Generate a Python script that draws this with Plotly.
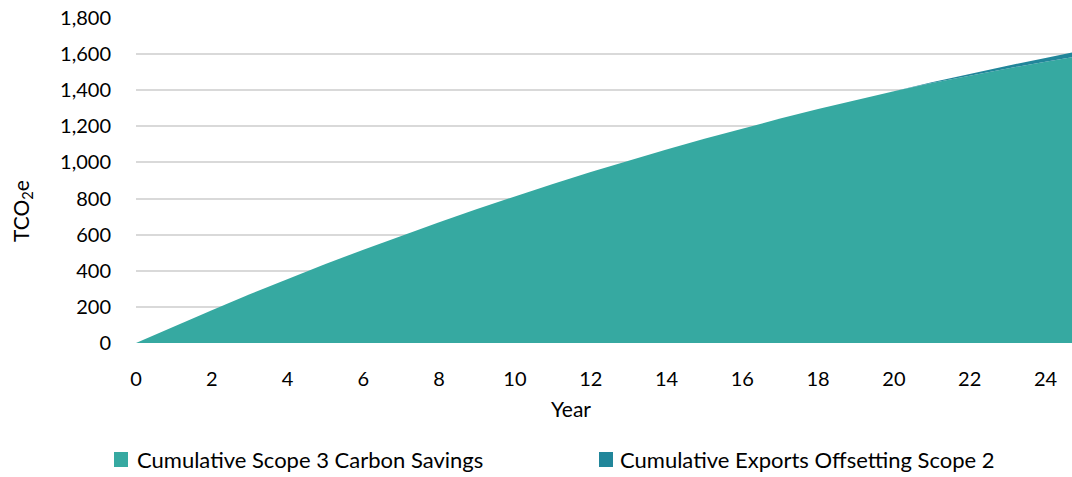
import plotly.graph_objects as go

# Cumulative savings by year (tCO2e)
years = list(range(0, 26))
scope3_cumulative = [0, 92, 182, 270, 355, 437, 517, 594, 669, 742, 813, 881, 947,
                     1011, 1072, 1131, 1188, 1243, 1296, 1347, 1395, 1440, 1482,
                     1521, 1558, 1593]
exports_cumulative = [0, 0, 0, 0, 0, 0, 0, 0, 0, 0, 0, 0, 0,
                      0, 0, 0, 0, 0, 0, 0, 0, 4, 9, 15, 21, 28]
series_names = ["Cumulative Scope 3 Carbon Savings", "Cumulative Exports Offsetting Scope 2"]
series_colors = ["#36A9A1", "#21869A"]
y_ticks = list(range(0, 2000, 200))
x_ticks = list(range(0, 26, 2))

FONT = "Lato"
W, H = 1072, 477
L, R, T, B = 136, 0, 18, 134
pw, ph = W - L - R, H - T - B


def px_x(x):
    """Pixel column -> paper x."""
    return (x - L) / pw


def px_y(y):
    """Pixel row (from top) -> paper y."""
    return (H - y - B) / ph


fig = go.Figure()
for name, vals, col in zip(series_names, [scope3_cumulative, exports_cumulative], series_colors):
    fig.add_trace(go.Scatter(
        x=years, y=vals, name=name, mode="lines", stackgroup="s",
        line=dict(width=0, color=col), fillcolor=col, showlegend=False,
    ))

fig.update_layout(
    width=W, height=H,
    margin=dict(l=L, r=R, t=T, b=B),
    plot_bgcolor="white", paper_bgcolor="white",
    font=dict(family=FONT, size=20, color="#000000"),
    xaxis=dict(
        range=[0, 24.7], tickvals=x_ticks, showgrid=False, zeroline=False,
        showline=False, ticks="", ticklabelstandoff=22,
        tickfont=dict(family=FONT, size=20),
    ),
    yaxis=dict(
        range=[0, 1800], tickvals=y_ticks, tickformat=",", showgrid=True,
        gridcolor="#D9D9D9", gridwidth=1.5, zeroline=False, showline=False,
        ticks="", ticklabelstandoff=24,
        tickfont=dict(family=FONT, size=20),
    ),
)

# Axis titles
fig.add_annotation(x=px_x(571), y=px_y(408), xref="paper", yref="paper", text="Year",
                   showarrow=False, xanchor="center", yanchor="middle",
                   font=dict(family=FONT, size=21))
fig.add_annotation(x=px_x(22), y=px_y(211), xref="paper", yref="paper",
                   text="TCO<sub>2</sub>e", textangle=-90, showarrow=False,
                   xanchor="center", yanchor="middle", font=dict(family=FONT, size=21))

# Legend drawn as swatches plus labels
legend_swatch_x = [114, 599]
legend_text_x = [135, 618]
for sx, tx, name, col in zip(legend_swatch_x, legend_text_x, series_names, series_colors):
    fig.add_shape(type="rect", xref="paper", yref="paper",
                  x0=px_x(sx), x1=px_x(sx + 14), y0=px_y(467), y1=px_y(452),
                  line=dict(width=0), fillcolor=col)
    fig.add_annotation(x=px_x(tx), y=px_y(460), xref="paper", yref="paper",
                       text=name, showarrow=False, xanchor="left", yanchor="middle",
                       font=dict(family=FONT, size=22))

fig.write_html("out.html")
